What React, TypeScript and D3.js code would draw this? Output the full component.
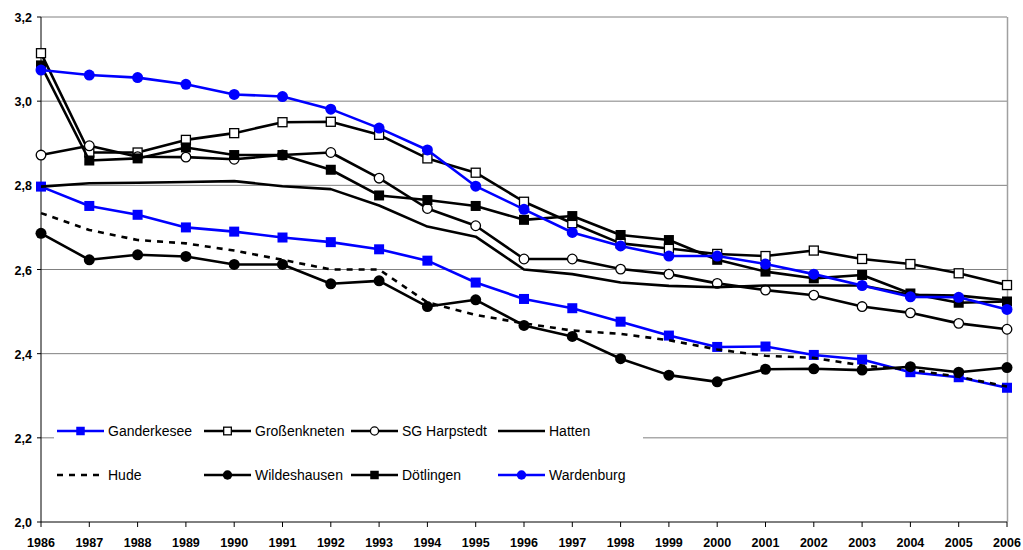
import React from "react";
import * as d3 from "d3";

const years = [1986,1987,1988,1989,1990,1991,1992,1993,1994,1995,1996,1997,1998,1999,2000,2001,2002,2003,2004,2005,2006];
const yTicks = [2.0, 2.2, 2.4, 2.6, 2.8, 3.0, 3.2];

const ganderkesee = [2.797,2.751,2.730,2.700,2.690,2.676,2.665,2.648,2.621,2.569,2.530,2.508,2.476,2.443,2.416,2.417,2.397,2.386,2.356,2.344,2.319];
const grossenkneten = [3.114,2.878,2.878,2.908,2.924,2.950,2.951,2.920,2.864,2.830,2.761,2.710,2.662,2.650,2.637,2.632,2.645,2.625,2.613,2.591,2.563];
const harpstedt = [2.872,2.894,2.868,2.867,2.862,2.872,2.878,2.817,2.745,2.704,2.625,2.625,2.601,2.589,2.567,2.551,2.539,2.512,2.497,2.472,2.458];
const hatten = [2.797,2.805,2.806,2.808,2.810,2.798,2.791,2.752,2.702,2.678,2.600,2.589,2.569,2.561,2.558,2.562,2.562,2.562,2.540,2.538,2.527];
const hude = [2.734,2.694,2.670,2.662,2.645,2.623,2.600,2.600,2.522,2.492,2.472,2.455,2.447,2.432,2.410,2.395,2.390,2.372,2.362,2.345,2.322];
const wildeshausen = [2.686,2.623,2.635,2.631,2.612,2.612,2.566,2.573,2.512,2.528,2.467,2.441,2.388,2.349,2.333,2.363,2.364,2.361,2.369,2.356,2.367];
const doetlingen = [3.085,2.859,2.864,2.890,2.872,2.872,2.837,2.776,2.765,2.751,2.718,2.727,2.682,2.670,2.623,2.595,2.579,2.587,2.543,2.521,2.524];
const wardenburg = [3.074,3.062,3.056,3.040,3.016,3.011,2.981,2.936,2.884,2.798,2.743,2.688,2.656,2.632,2.632,2.613,2.589,2.562,2.535,2.534,2.505];

type Marker = "square" | "openSquare" | "openCircle" | "circle" | "none";
interface Series { name: string; values: number[]; color: string; marker: Marker; dashed?: boolean; }

const series: Series[] = [
  { name: "Ganderkesee", values: ganderkesee, color: "#0000ff", marker: "square" },
  { name: "Großenkneten", values: grossenkneten, color: "#000000", marker: "openSquare" },
  { name: "SG Harpstedt", values: harpstedt, color: "#000000", marker: "openCircle" },
  { name: "Hatten", values: hatten, color: "#000000", marker: "none" },
  { name: "Hude", values: hude, color: "#000000", marker: "none", dashed: true },
  { name: "Wildeshausen", values: wildeshausen, color: "#000000", marker: "circle" },
  { name: "Dötlingen", values: doetlingen, color: "#000000", marker: "square" },
  { name: "Wardenburg", values: wardenburg, color: "#0000ff", marker: "circle" },
];

const legendOrder = [
  ["Ganderkesee", "Großenkneten", "SG Harpstedt", "Hatten"],
  ["Hude", "Wildeshausen", "Dötlingen", "Wardenburg"],
];

function MarkerShape({ m, x, y, color, size = 1 }: { m: Marker; x: number; y: number; color: string; size?: number }) {
  if (m === "square") return <rect x={x - 5 * size} y={y - 5 * size} width={10 * size} height={10 * size} fill={color} />;
  if (m === "openSquare") return <rect x={x - 4.5 * size} y={y - 4.5 * size} width={9 * size} height={9 * size} fill="#fff" stroke={color} strokeWidth={1.3} />;
  if (m === "openCircle") return <circle cx={x} cy={y} r={4.8 * size} fill="#fff" stroke={color} strokeWidth={1.3} />;
  if (m === "circle") return <circle cx={x} cy={y} r={5.5 * size} fill={color} />;
  return null;
}

export default function App() {
  const W = 1023, H = 550;
  const x = d3.scaleLinear().domain([1986, 2006]).range([41, 1007]);
  const y = d3.scaleLinear().domain([2.0, 3.2]).range([522, 17]);
  const line = d3.line<number>().x((_, i) => x(years[i])).y((v) => y(v));
  const fmt = (v: number) => v.toFixed(1).replace(".", ",");
  const font = "'Liberation Sans', Arial, sans-serif";
  const legendX = [57, 204, 351, 498];
  const legendY = [431, 475];

  return (
    <svg width={W} height={H} style={{ position: "absolute", left: 0, top: 0, background: "#fff" }} fontFamily={font}>
      <rect x={0} y={0} width={W} height={H} fill="#fff" />
      {yTicks.filter((t) => t > 2.0).map((t) => (
        <line key={t} x1={x(1986)} x2={x(2006)} y1={y(t)} y2={y(t)} stroke="#808080" strokeWidth={1} />
      ))}
      <line x1={x(2006) + 0.5} x2={x(2006) + 0.5} y1={y(3.2)} y2={y(2.0)} stroke="#a0a0a0" strokeWidth={1.5} />
      <rect x={54} y={412} width={589} height={82} fill="#fff" />
      <line x1={x(1986)} x2={x(1986)} y1={y(3.2)} y2={y(2.0)} stroke="#000" strokeWidth={1} />
      <line x1={x(1986)} x2={x(2006)} y1={y(2.0)} y2={y(2.0)} stroke="#000" strokeWidth={1} />
      {yTicks.map((t) => (
        <g key={"yt" + t}>
          <line x1={x(1986) - 4} x2={x(1986)} y1={y(t)} y2={y(t)} stroke="#000" />
          <text x={32} y={y(t) + 5} textAnchor="end" fontSize={12.5} fontWeight="bold" fill="#000">{fmt(t)}</text>
        </g>
      ))}
      {years.map((yr) => (
        <g key={"xt" + yr}>
          <line x1={x(yr)} x2={x(yr)} y1={y(2.0)} y2={y(2.0) + 5} stroke="#000" />
          <text x={x(yr)} y={546.5} textAnchor="middle" fontSize={12.5} fontWeight="bold" fill="#000">{yr}</text>
        </g>
      ))}
      {series.map((s) => (
        <g key={s.name}>
          <path d={line(s.values) || ""} fill="none" stroke={s.color} strokeWidth={2.6} strokeDasharray={s.dashed ? "6,6" : undefined} strokeLinejoin="round" />
          {s.values.map((v, i) => (
            <MarkerShape key={i} m={s.marker} x={x(years[i])} y={y(v)} color={s.color} />
          ))}
        </g>
      ))}
      {legendOrder.map((row, r) =>
        row.map((name, c) => {
          const s = series.find((q) => q.name === name)!;
          const lx = legendX[c], ly = legendY[r];
          return (
            <g key={name}>
              <line x1={lx} x2={lx + 47} y1={ly} y2={ly} stroke={s.color} strokeWidth={2.6} strokeDasharray={s.dashed ? "6,6" : undefined} />
              <MarkerShape m={s.marker} x={lx + 23.5} y={ly} color={s.color} size={0.85} />
              <text x={lx + 51} y={ly + 5} fontSize={14} fill="#000">{name}</text>
            </g>
          );
        })
      )}
    </svg>
  );
}
